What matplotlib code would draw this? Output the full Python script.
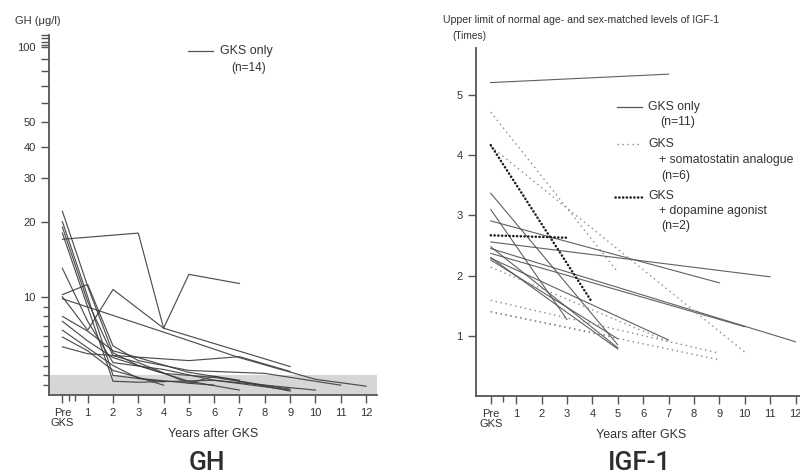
import numpy as np
import matplotlib
matplotlib.use("Agg")
import matplotlib.pyplot as plt
from matplotlib.lines import Line2D

plt.rcParams['font.family'] = ['Liberation Sans', 'DejaVu Sans']

# ---- GH panel data (years after GKS, GH ug/l), 14 patients ----
gh_years = [
    [0, 1, 2, 3, 5, 7],
    [0, 1, 2, 4],
    [0, 1, 2, 3, 5, 6, 9],
    [0, 2, 3, 6, 9],
    [0, 3, 4, 5, 7],
    [0, 1, 2, 4, 6, 10],
    [0, 1, 2, 3, 5, 8, 11],
    [0, 1, 2, 4, 9],
    [0, 4, 7, 10, 12],
    [0, 1, 2, 3, 5, 7],
    [0, 1, 2, 4, 6, 9],
    [0, 2, 3, 5, 6],
    [0, 1, 5, 7, 9],
    [0, 1, 2, 3, 4],
]
gh_values = [
    [22, 11, 4.3, 3.0, 1.4, 0.5],
    [20, 10, 2.0, 1.35],
    [19, 9.5, 4.0, 3.3, 1.2, 1.9, 0.4],
    [18, 1.4, 1.3, 1.5, 0.5],
    [17, 18, 6.8, 12.3, 11.3],
    [13, 7.5, 3.3, 2.6, 1.5, 0.5],
    [10.2, 11.2, 5.0, 3.5, 2.5, 2.2, 1.0],
    [10, 6.6, 10.7, 6.8, 2.9],
    [9.8, 6.4, 3.8, 1.6, 0.9],
    [8.0, 6.5, 4.5, 3.8, 2.3, 1.5],
    [7.5, 5.5, 3.8, 2.2, 1.8, 0.6],
    [6.6, 3.0, 1.7, 1.2, 1.0],
    [4.9, 4.2, 3.5, 3.9, 2.4],
    [5.9, 4.5, 2.5, 1.8, 1.0],
]
gh_normal_limit = 2

# ---- IGF-1 panel data (times upper limit of normal) ----
only_pre = [5.21, 3.37, 3.10, 2.91, 2.56, 2.48, 2.45, 2.37, 2.29, 2.30, 2.26]
only_last_year = [7, 5, 3, 9, 11, 5, 12, 10, 7, 5, 5]
only_last = [5.35, 0.85, 1.27, 1.88, 1.98, 0.80, 0.90, 1.15, 0.93, 0.78, 0.95]

ssa_pre = [4.72, 4.15, 2.14, 1.59, 1.40, 1.40]
ssa_last_year = [5, 10, 7, 9, 9, 5]
ssa_last = [2.06, 0.73, 0.90, 0.71, 0.60, 0.97]

da_pre = [4.17, 2.67]
da_last_year = [4, 3]
da_last = [1.55, 2.63]

year_ticks = list(range(13))
year_labels = ['Pre\nGKS'] + [str(i) for i in range(1, 13)]

K = 25.4  # log part of the GH axis: units per decade above 10


def fwd(v):
    v = np.asarray(v, float)
    return np.where(v <= 10, v, 10 + K * np.log10(np.clip(v, 10, None) / 10))


def inv(u):
    u = np.asarray(u, float)
    return np.where(u <= 10, u, 10 * 10 ** ((np.clip(u, 10, None) - 10) / K))


fig = plt.figure(figsize=(8, 4.76), dpi=100)

axis_col = '#555555'
txt_col = '#333333'
heavy_dots = dict(color='#1e1e1e', lw=1.8, linestyle=(0, (0.1, 1.4)),
                  dash_capstyle='round')
light_dots = dict(color='#8a8a8a', lw=1.0, linestyle=(0, (1, 2.6)))
title_font = dict(fontsize=19, color='#2e2e2e', family='Roboto',
                  fontweight='medium', ha='center', va='center')


def style_axes(ax):
    for s in ['top', 'right']:
        ax.spines[s].set_visible(False)
    for s in ['left', 'bottom']:
        ax.spines[s].set_color(axis_col)
        ax.spines[s].set_linewidth(1.3)
    ax.tick_params(which='both', direction='out', colors=axis_col,
                   labelcolor=txt_col, labelsize=8, width=1)
    ax.tick_params(which='major', length=6)
    ax.tick_params(which='minor', length=4)
    ax.set_xticks(year_ticks)
    ax.set_xticklabels(year_labels, linespacing=0.95)
    ax.set_xlabel('Years after GKS', fontsize=9, color=txt_col, labelpad=0)


# ---------------- GH ----------------
ax1 = fig.add_axes([49 / 800, 1 - 395 / 476, 327.6 / 800, 360 / 476])
ax1.set_yscale('function', functions=(fwd, inv))
ax1.set_xlim(-0.53, 12.42)
ax1.set_ylim(0, 112)
ax1.axhspan(0, gh_normal_limit, color='#d6d6d6', lw=0, zorder=0)
for xs, ys in zip(gh_years, gh_values):
    ax1.plot(xs, ys, color='#3c3c3c', lw=0.85, alpha=0.9)
style_axes(ax1)
major_y = [10, 20, 30, 40, 50, 60, 70, 80, 90, 100, 102, 105, 108.5, 112]
ax1.set_yticks(major_y)
ax1.set_yticklabels(['10', '20', '30', '40', '50', '', '', '', '', '100',
                     '', '', '', ''])
ax1.set_yticks(list(range(1, 10)), minor=True)
ax1.yaxis.set_minor_formatter(plt.NullFormatter())
ax1.set_xticks([0.25, 0.5], minor=True)

fig.text(15 / 800, 1 - 21 / 476, 'GH (μg/l)', fontsize=8, color=txt_col,
         va='center', ha='left')
fig.add_artist(Line2D([188 / 800, 213 / 800], [1 - 50.7 / 476] * 2,
                      color='#555555', lw=0.9))
fig.text(220 / 800, 1 - 51 / 476, 'GKS only', fontsize=9, color=txt_col,
         va='center')
fig.text(231 / 800, 1 - 68 / 476, '(n=14)', fontsize=8.5, color=txt_col,
         va='center')
fig.text(207 / 800, 1 - 463 / 476, 'GH', **title_font)

# ---------------- IGF-1 ----------------
ax2 = fig.add_axes([476 / 800, 1 - 395.9 / 476, 329.7 / 800, 347.6 / 476])
ax2.set_xlim(-0.58, 12.4)
ax2.set_ylim(0, 5.78)
for p, ly, l in zip(only_pre, only_last_year, only_last):
    ax2.plot([0, ly], [p, l], color='#505050', lw=0.8, alpha=0.9)
for p, ly, l in zip(ssa_pre, ssa_last_year, ssa_last):
    ax2.plot([0, ly], [p, l], **light_dots)
for p, ly, l in zip(da_pre, da_last_year, da_last):
    ax2.plot([0, ly], [p, l], **heavy_dots)
style_axes(ax2)
ax2.set_yticks([1, 2, 3, 4, 5])
ax2.set_xticks([0.5], minor=True)

fig.text(443 / 800, 1 - 20 / 476,
         'Upper limit of normal age- and sex-matched levels of IGF-1',
         fontsize=7.6, color=txt_col, va='center')
fig.text(452 / 800, 1 - 36 / 476, '(Times)', fontsize=7.3, color=txt_col,
         va='center')

fig.add_artist(Line2D([617 / 800, 642 / 800], [1 - 107.3 / 476] * 2,
                      color='#555555', lw=0.9))
fig.add_artist(Line2D([617 / 800, 642 / 800], [1 - 144.3 / 476] * 2,
                      **light_dots))
fig.add_artist(Line2D([615 / 800, 642 / 800], [1 - 196.7 / 476] * 2,
                      **heavy_dots))
legend_rows = [
    (648, 107, 'GKS only'), (660, 122, '(n=11)'),
    (648, 144, 'GKS'), (659, 160, '+ somatostatin analogue'), (661, 176, '(n=6)'),
    (648, 196, 'GKS'), (659, 211, '+ dopamine agonist'), (661, 226, '(n=2)'),
]
for x, y, s in legend_rows:
    fig.text(x / 800, 1 - y / 476, s, fontsize=8.8, color=txt_col, va='center')

fig.text(640 / 800, 1 - 463 / 476, 'IGF-1', **title_font)

fig.savefig('out.png', dpi=100)
